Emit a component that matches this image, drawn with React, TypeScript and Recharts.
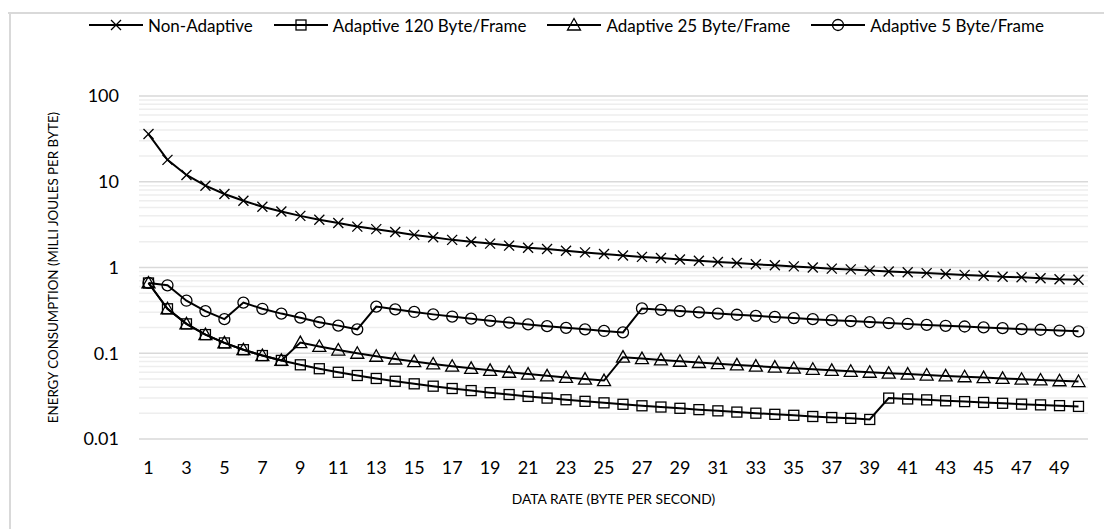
import React from 'react';
import { LineChart, Line, XAxis, YAxis, CartesianGrid, ReferenceLine } from 'recharts';

const dataRates = [
  1, 2, 3, 4, 5, 6, 7, 8, 9, 10, 11, 12, 13, 14, 15, 16, 17, 18, 19, 20, 21, 22, 23, 24, 25,
  26, 27, 28, 29, 30, 31, 32, 33, 34, 35, 36, 37, 38, 39, 40, 41, 42, 43, 44, 45, 46, 47, 48, 49, 50,
];

const nonAdaptive = [
  36, 18, 12, 9, 7.2, 6, 5.1, 4.5, 4, 3.6, 3.3, 3, 2.8, 2.6, 2.4, 2.25, 2.1, 2, 1.9, 1.8, 1.7, 1.64, 1.57, 1.5, 1.44,
  1.38, 1.33, 1.29, 1.24, 1.2, 1.16, 1.13, 1.09, 1.06, 1.03, 1.0, 0.97, 0.95, 0.92, 0.9, 0.88, 0.86, 0.84, 0.82, 0.8, 0.78, 0.77, 0.75, 0.73, 0.72,
];

const adaptive120 = [
  0.66, 0.33, 0.22, 0.165, 0.132, 0.11, 0.094, 0.0825, 0.0733, 0.066, 0.06, 0.055, 0.0508, 0.0471, 0.044, 0.0413, 0.0388, 0.0367, 0.0347, 0.033, 0.0314, 0.03, 0.0287, 0.0275, 0.0264,
  0.0254, 0.0244, 0.0236, 0.0228, 0.022, 0.0213, 0.0206, 0.02, 0.0194, 0.0189, 0.0183, 0.0178, 0.0174, 0.0169, 0.03, 0.0293, 0.0286, 0.0279, 0.0273, 0.0267, 0.0261, 0.0255, 0.025, 0.0245, 0.024,
];

const adaptive25 = [
  0.66, 0.33, 0.22, 0.165, 0.132, 0.11, 0.094, 0.0825, 0.133, 0.12, 0.109, 0.1, 0.0923, 0.0857, 0.08, 0.075, 0.0706, 0.0667, 0.0632, 0.06, 0.0571, 0.0545, 0.0522, 0.05, 0.048,
  0.09, 0.0867, 0.0836, 0.0807, 0.078, 0.0755, 0.0731, 0.0709, 0.0688, 0.0669, 0.065, 0.0632, 0.0616, 0.06, 0.0585, 0.0571, 0.0557, 0.0544, 0.0532, 0.052, 0.0509, 0.0498, 0.0488, 0.0478, 0.0468,
];

const adaptive5 = [
  0.66, 0.62, 0.41, 0.31, 0.25, 0.39, 0.33, 0.29, 0.26, 0.23, 0.21, 0.19, 0.35, 0.325, 0.303, 0.284, 0.268, 0.253, 0.239, 0.228, 0.217, 0.207, 0.198, 0.19, 0.182,
  0.175, 0.333, 0.321, 0.31, 0.3, 0.29, 0.281, 0.273, 0.265, 0.257, 0.25, 0.243, 0.237, 0.231, 0.225, 0.22, 0.214, 0.209, 0.205, 0.2, 0.196, 0.191, 0.188, 0.184, 0.18,
];

const yTicks = [0.01, 0.1, 1, 10, 100];
// light minor lines at 2..9 x each decade
const minorLines = yTicks.slice(0, -1).flatMap((d) => [2, 3, 4, 5, 6, 7, 8, 9].map((m) => Number((d * m).toPrecision(2))));

const data = dataRates.map((x, i) => ({
  x,
  nonAdaptive: nonAdaptive[i],
  adaptive120: adaptive120[i],
  adaptive25: adaptive25[i],
  adaptive5: adaptive5[i],
}));

type MarkerKind = 'cross' | 'square' | 'triangle' | 'circle';

const Marker = ({ kind, cx, cy }: { kind: MarkerKind; cx: number; cy: number }) => {
  const s = { stroke: '#000', strokeWidth: 1.3, fill: 'none' };
  if (kind === 'cross') {
    return (
      <g {...s}>
        <line x1={cx - 5} y1={cy - 5} x2={cx + 5} y2={cy + 5} />
        <line x1={cx - 5} y1={cy + 5} x2={cx + 5} y2={cy - 5} />
      </g>
    );
  }
  if (kind === 'square') return <rect x={cx - 5} y={cy - 5} width={10} height={10} {...s} />;
  if (kind === 'triangle') return <polygon points={`${cx},${cy - 6.5} ${cx + 6.5},${cy + 5} ${cx - 6.5},${cy + 5}`} {...s} />;
  return <circle cx={cx} cy={cy} r={5.5} {...s} />;
};

const series: { key: string; name: string; marker: MarkerKind }[] = [
  { key: 'nonAdaptive', name: 'Non-Adaptive', marker: 'cross' },
  { key: 'adaptive120', name: 'Adaptive 120 Byte/Frame', marker: 'square' },
  { key: 'adaptive25', name: 'Adaptive 25 Byte/Frame', marker: 'triangle' },
  { key: 'adaptive5', name: 'Adaptive 5 Byte/Frame', marker: 'circle' },
];

const font = 'Lato, "Open Sans", sans-serif';

const App = () => {
  return (
    <div style={{ position: 'relative', width: 1104, height: 521, overflow: 'hidden', fontFamily: font }}>
      {/* chart frame, open to the right and bottom like the source */}
      <svg width={1104} height={521} style={{ position: 'absolute', left: 0, top: 0 }}>
        <line x1={0} y1={5} x2={1104} y2={5} stroke="#d9d9d9" strokeWidth={2} />
        <line x1={2} y1={4} x2={2} y2={521} stroke="#d9d9d9" strokeWidth={2} />
      </svg>
      <LineChart
        width={1104}
        height={521}
        data={data}
        margin={{ top: 88, right: 24, bottom: 0, left: 0 }}
        style={{ position: 'absolute', left: 0, top: 0 }}
      >
        <CartesianGrid vertical={false} stroke="#d9d9d9" strokeWidth={1.5} />
        {minorLines.map((v) => (
          <ReferenceLine key={v} y={v} stroke="#eeeeee" strokeWidth={1.5} />
        ))}
        <XAxis
          dataKey="x"
          interval={1}
          axisLine={false}
          tickLine={false}
          tickMargin={16}
          height={90}
          padding={{ left: 9.5, right: 9.5 }}
          tick={{ fill: '#000', fontSize: 18, fontFamily: font }}
          label={{ value: 'DATA RATE (BYTE PER SECOND)', position: 'insideBottom', offset: 25, fill: '#000', fontSize: 13.8, fontFamily: font }}
        />
        <YAxis
          scale="log"
          domain={[0.01, 100]}
          ticks={yTicks}
          allowDataOverflow
          width={131}
          axisLine={false}
          tickLine={false}
          tickMargin={14}
          tick={{ fill: '#000', fontSize: 18, fontFamily: font }}
          label={{
            value: 'ENERGY CONSUMPTION (MILLI JOULES PER BYTE)',
            angle: -90,
            position: 'insideLeft',
            offset: 45,
            style: { textAnchor: 'middle' },
            fill: '#000',
            fontSize: 13.3,
            fontFamily: font,
          }}
        />
        {series.map((s) => (
          <Line
            key={s.key}
            type="linear"
            dataKey={s.key}
            name={s.name}
            stroke="#000"
            strokeWidth={2}
            isAnimationActive={false}
            dot={(p: any) => <Marker key={`${s.key}-${p.index}`} kind={s.marker} cx={p.cx} cy={p.cy} />}
          />
        ))}
      </LineChart>
      {/* legend */}
      <div style={{ position: 'absolute', left: 81, top: 8, height: 18, display: 'flex', alignItems: 'center', gap: 21 }}>
        {series.map((s) => (
          <div key={s.key} style={{ display: 'flex', alignItems: 'center', gap: 5 }}>
            <svg width={54} height={16}>
              <line x1={0} y1={8} x2={54} y2={8} stroke="#000" strokeWidth={2} />
              <Marker kind={s.marker} cx={27} cy={8} />
            </svg>
            <span style={{ fontSize: 17, color: '#000', whiteSpace: 'nowrap' }}>{s.name}</span>
          </div>
        ))}
      </div>
    </div>
  );
};

export default App;
